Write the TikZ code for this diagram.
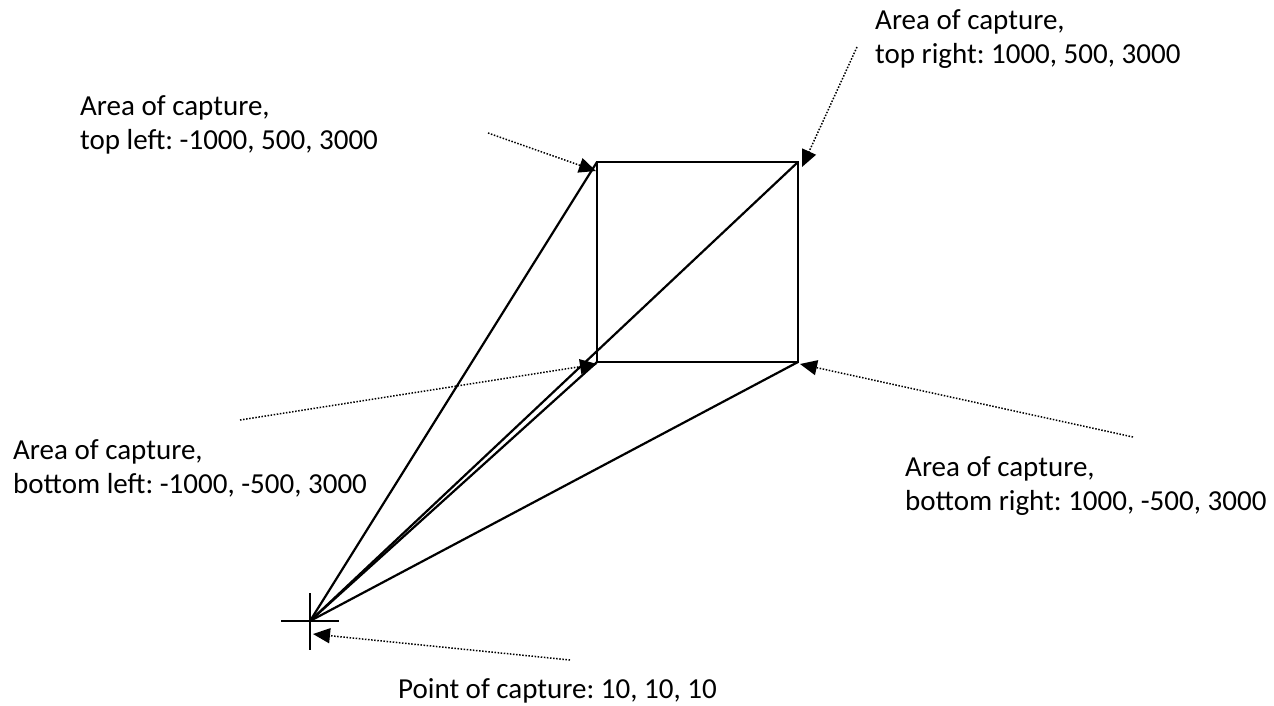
\documentclass[tikz,border=0pt]{standalone}
\usepackage{fontspec}
\setmainfont{Carlito}
\usetikzlibrary{arrows.meta}
\begin{document}
\begin{tikzpicture}[x=1pt,y=-1pt,
  lbl/.style={anchor=base west,inner sep=0pt,align=left,font=\fontsize{29}{34}\selectfont\frenchspacing},
  solid line/.style={draw=black,line width=2.2pt},
  pointer/.style={draw=black,line width=1.5pt,dash pattern=on 1.5pt off 1.6pt,
    -{Triangle[length=17pt,width=15pt]}},
  cross/.style={draw=black,line width=2.6pt}]
\useasboundingbox[fill=white] (0,0) rectangle (1274,705);
% corners of the area of capture
\coordinate (TL) at (597,162);
\coordinate (TR) at (798,162);
\coordinate (BR) at (798,362);
\coordinate (BL) at (597,362);
% point of capture
\coordinate (P) at (310,621);
% crosshair ends
\coordinate (cl) at (281,621);
\coordinate (cr) at (339,621);
\coordinate (ct) at (310,593);
\coordinate (cb) at (310,650);
% labels (base = baseline of the last line)
\node[lbl] (tTR) at (875,63) {Area of capture,\\top right: 1000, 500, 3000};
\node[lbl] (tTL) at (80,149) {Area of capture,\\top left: -1000, 500, 3000};
\node[lbl] (tBL) at (13,493) {Area of capture,\\bottom left: -1000, -500, 3000};
\node[lbl] (tBR) at (905,510) {Area of capture,\\bottom right: 1000, -500, 3000};
\node[lbl] (tP) at (398,698) {Point of capture: 10, 10, 10};
% pointer start and tip points
\coordinate (sTL) at (488,133);
\coordinate (eTL) at (596,171);
\coordinate (sTR) at (857,47);
\coordinate (eTR) at (802,167);
\coordinate (sBL) at (240,420);
\coordinate (eBL) at (597,364);
\coordinate (sBR) at (1133,437);
\coordinate (eBR) at (800,364);
\coordinate (sP) at (570,660);
\coordinate (eP) at (313,634);
% area rectangle
\draw[solid line] (TL) -- (TR) -- (BR) -- (BL) -- cycle;
% rays
\draw[solid line] (P) -- (TL);
\draw[solid line] (P) -- (TR);
\draw[solid line] (P) -- (BL);
\draw[solid line] (P) -- (BR);
% crosshair
\draw[cross] (cl) -- (cr);
\draw[cross] (ct) -- (cb);
% pointers
\draw[pointer] (sTL) -- (eTL);
\draw[pointer] (sTR) -- (eTR);
\draw[pointer] (sBL) -- (eBL);
\draw[pointer] (sBR) -- (eBR);
\draw[pointer] (sP) -- (eP);
\end{tikzpicture}
\end{document}
